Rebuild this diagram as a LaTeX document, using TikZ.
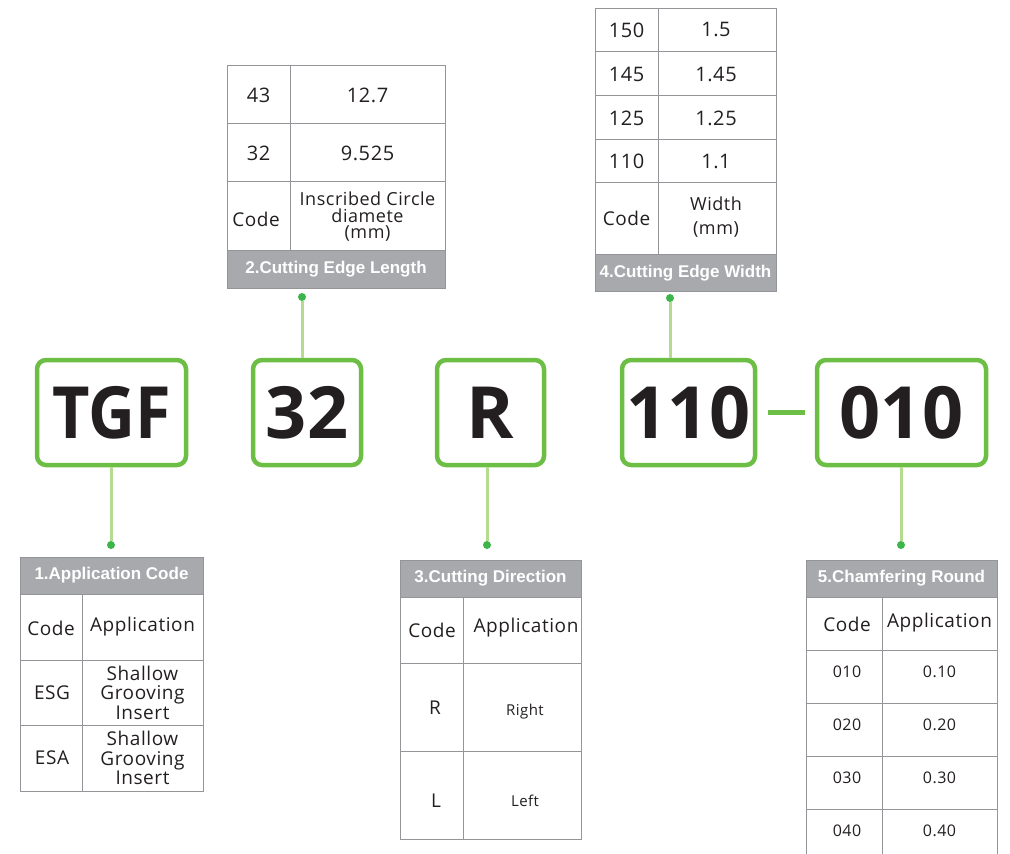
\documentclass[tikz,border=0pt]{standalone}
\usepackage{fontspec}
\setmainfont{Open Sans}
\newfontfamily\hdrfont{Liberation Sans}
\newfontfamily\cellfont[LetterSpace=3]{Open Sans}
\newfontfamily\narrowfont[FakeStretch=0.9]{Open Sans}
\usetikzlibrary{positioning}
\definecolor{cgreen}{HTML}{6DBE45}
\definecolor{clight}{HTML}{B5DC8E}
\definecolor{cdot}{HTML}{3DB54A}
\definecolor{cgrid}{HTML}{939598}
\definecolor{chead}{HTML}{A7A9AC}
\definecolor{cink}{HTML}{231F20}

\tikzset{
  codebox/.style={draw=cgreen, line width=4.5pt, rounded corners=9pt, fill=white,
    inner sep=0pt, minimum height=105pt, text=cink,
    font=\fontsize{72}{72}\selectfont\bfseries},
  hookdot/.style={circle, fill=cdot, inner sep=0pt, minimum size=8pt},
  hook/.style={draw=clight, line width=3pt},
  grid/.style={draw=cgrid, line width=1pt},
  headtxt/.style={font=\hdrfont\bfseries\fontsize{17}{17}\selectfont, text=white},
  cell/.style={font=\cellfont\fontsize{19}{20}\selectfont, text=cink, align=center},
  num cell/.style={font=\cellfont\fontsize{20}{20}\selectfont, text=cink, align=center},
  small cell/.style={font=\cellfont\fontsize{16}{17}\selectfont, text=cink, align=center},
}

\begin{document}
\begin{tikzpicture}[x=1pt, y=-1pt]
\useasboundingbox (0,0) rectangle (1010,854);

% code boxes
\node[codebox, minimum width=149pt, font=\narrowfont\fontsize{72}{72}\selectfont\bfseries] (c1) at (111.5,412.5) {TGF};
\node[codebox, minimum width=108pt] (c2) at (307,412.5) {32};
\node[codebox, minimum width=107pt] (c3) at (490.5,412.5) {R};
\node[codebox, minimum width=133pt] (c4) at (688.5,412.5) {110};
\node[codebox, minimum width=169pt] (c5) at (901.5,412.5) {010};
\draw[cgreen, line width=5pt, shorten <=11pt, shorten >=10pt] (c4.east) -- (c5.west);

% hooks to the tables
\node[hookdot] (d1) at (111,545) {};
\node[hookdot] (d2) at (302,297) {};
\node[hookdot] (d3) at (487,545) {};
\node[hookdot] (d4) at (670,298) {};
\node[hookdot] (d5) at (901,545) {};
\draw[hook] (d1 |- c1.south) -- (d1);
\draw[hook] (d2 |- c2.north) -- (d2);
\draw[hook] (d3 |- c3.south) -- (d3);
\draw[hook] (d4 |- c4.north) -- (d4);
\draw[hook] (d5 |- c5.south) -- (d5);

% 1 application code
\fill[chead] (20,557) rectangle (203,594);
\draw[grid] (20,557) rectangle (203,791);
\draw[grid] (20,594) -- (203,594) (20,660) -- (203,660) (20,725) -- (203,725);
\draw[grid] (82,594) -- (82,791);
\node[headtxt] (h1) at (111.5,575.5) {1.Application Code};
\node[cell] (a11) at (51,628) {Code};
\node[cell] (a12) at (142.5,627) {Application};
\node[cell] (a21) at (52,692.5) {ESG};
\node[cell, font=\cellfont\fontsize{19}{19.5}\selectfont] (a22) at (142.5,692.5) {Shallow\\Grooving\\Insert};
\node[cell] (a31) at (52,758) {ESA};
\node[cell, font=\cellfont\fontsize{19}{19.5}\selectfont] (a32) at (142.5,758) {Shallow\\Grooving\\Insert};

% 2 cutting edge length
\fill[chead] (227,250) rectangle (445,288);
\draw[grid] (227,65) rectangle (445,288);
\draw[grid] (227,123) -- (445,123) (227,181) -- (445,181) (227,250) -- (445,250);
\draw[grid] (290,65) -- (290,250);
\node[num cell] (b11) at (258.5,95) {43};
\node[num cell] (b12) at (367.5,95) {12.7};
\node[num cell] (b21) at (258.5,153) {32};
\node[num cell] (b22) at (367.5,153) {9.525};
\node[cell] (b31) at (256,219) {Code};
\node[cell, font=\cellfont\fontsize{18}{16.5}\selectfont] (b32) at (367.5,217) {Inscribed Circle\\diamete\\(mm)};
\node[headtxt] (h2) at (336,269) {2.Cutting Edge Length};

% 3 cutting direction
\fill[chead] (400,560) rectangle (581,597);
\draw[grid] (400,560) rectangle (581,839);
\draw[grid] (400,597) -- (581,597) (400,663) -- (581,663) (400,751) -- (581,751);
\draw[grid] (463,597) -- (463,839);
\node[headtxt] (h3) at (490.5,578.5) {3.Cutting Direction};
\node[cell] (e11) at (432,630) {Code};
\node[cell] (e12) at (526,628) {Application};
\node[cell] (e21) at (435,708) {R};
\node[small cell, font=\cellfont\fontsize{15}{15}\selectfont] (e22) at (525,712) {Right};
\node[cell] (e31) at (436,801) {L};
\node[small cell, font=\cellfont\fontsize{15}{15}\selectfont] (e32) at (525,801) {Left};

% 4 cutting edge width
\fill[chead] (595,254) rectangle (776,291);
\draw[grid] (595,8) rectangle (776,291);
\draw[grid] (595,51) -- (776,51) (595,95) -- (776,95) (595,139) -- (776,139)
  (595,182) -- (776,182) (595,254) -- (776,254);
\draw[grid] (658,8) -- (658,254);
\node[num cell] (f11) at (626.5,30) {150};
\node[num cell] (f12) at (716,30) {1.5};
\node[num cell] (f21) at (626.5,74) {145};
\node[num cell] (f22) at (716,74) {1.45};
\node[num cell] (f31) at (626.5,118) {125};
\node[num cell] (f32) at (716,118) {1.25};
\node[num cell] (f41) at (626.5,161) {110};
\node[num cell] (f42) at (716,161) {1.1};
\node[cell] (f51) at (626.5,218) {Code};
\node[cell, font=\cellfont\fontsize{18}{24}\selectfont] (f52) at (716,217) {Width\\(mm)};
\node[headtxt] (h4) at (685.5,273) {4.Cutting Edge Width};

% 5 chamfering round
\fill[chead] (806,560) rectangle (997,597);
\draw[grid] (806,854) -- (806,560) -- (997,560) -- (997,854);
\draw[grid] (806,597) -- (997,597) (806,650) -- (997,650) (806,703) -- (997,703)
  (806,756) -- (997,756) (806,809) -- (997,809);
\draw[grid] (882,597) -- (882,854);
\node[headtxt] (h5) at (901.5,578.5) {5.Chamfering Round};
\node[cell] (g11) at (847,624) {Code};
\node[cell] (g12) at (939.5,623) {Application};
\node[small cell] (g21) at (847,672) {010};
\node[small cell] (g22) at (939.5,672) {0.10};
\node[small cell] (g31) at (847,725) {020};
\node[small cell] (g32) at (939.5,725) {0.20};
\node[small cell] (g41) at (847,778) {030};
\node[small cell] (g42) at (939.5,778) {0.30};
\node[small cell] (g51) at (847,831) {040};
\node[small cell] (g52) at (939.5,831) {0.40};
\end{tikzpicture}
\end{document}
